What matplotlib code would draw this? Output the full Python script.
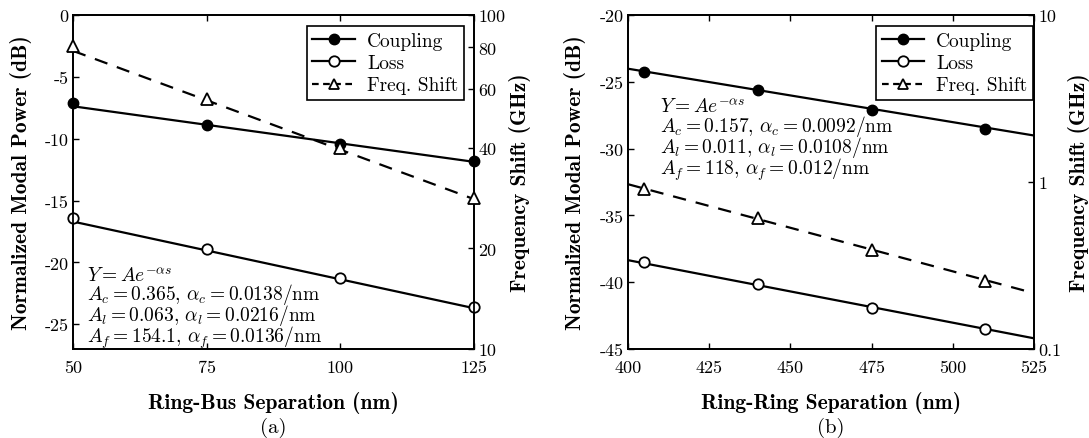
import matplotlib
matplotlib.use("Agg")
import matplotlib.pyplot as plt
from matplotlib.lines import Line2D
from matplotlib.ticker import FixedLocator, NullLocator

plt.rcParams['font.family'] = ['cmr10', 'DejaVu Serif']
plt.rcParams['mathtext.fontset'] = 'cm'
plt.rcParams['axes.unicode_minus'] = False
plt.rcParams['axes.formatter.use_mathtext'] = False

# ---- Panel (a) data ----
sep_a = [50, 75, 100, 125]
coupling_a = [-7.1, -8.9, -10.4, -11.8]        # dB
loss_a = [-16.4, -18.9, -21.3, -23.6]          # dB
freq_a = [80.5, 56.0, 40.0, 28.3]              # GHz
fit_x_a = [50, 125]
coupling_fit_a = [-7.38, -11.87]
loss_fit_a = [-16.7, -23.7]
freq_fit_a = [78.1, 28.1]
ann_a = [r"$Y = Ae^{-\alpha s}$",
         r"$A_c = 0.365,\, \alpha_c = 0.0138/\mathrm{nm}$",
         r"$A_l = 0.063,\, \alpha_l = 0.0216/\mathrm{nm}$",
         r"$A_f = 154.1,\, \alpha_f = 0.0136/\mathrm{nm}$"]

# ---- Panel (b) data ----
sep_b = [405, 440, 475, 510]
coupling_b = [-24.25, -25.6, -27.1, -28.5]
loss_b = [-38.5, -40.1, -41.9, -43.5]
freq_b = [0.91, 0.61, 0.39, 0.255]
fit_x_b = [400, 525]
coupling_fit_b = [-24.02, -29.02]
loss_fit_b = [-38.35, -44.2]
freq_fit_b = [0.97, 0.216]
ann_b = [r"$Y = Ae^{-\alpha s}$",
         r"$A_c = 0.157,\, \alpha_c = 0.0092/\mathrm{nm}$",
         r"$A_l = 0.011,\, \alpha_l = 0.0108/\mathrm{nm}$",
         r"$A_f = 118,\, \alpha_f = 0.012/\mathrm{nm}$"]

W, H = 1089, 439
fig = plt.figure(figsize=(W / 100, H / 100), dpi=100)

def px_rect(l, t, r, b):
    return [l / W, 1 - b / H, (r - l) / W, (b - t) / H]

lw = 1.6
ms = 7.5
fs = 13
fs_lab = 15.5

def panel(rect, sep, cp, ls, fq, fx, cpf, lsf, fqf, xlim, xticks, ylim, yticks,
          rlim, rticks, rlabels, ann, ann_xy, xlabel, tag, leg_anchor, llabel_x, rlabel_x):
    l_, t_, r_, b_ = rect
    ax = fig.add_axes(px_rect(*rect))
    ax2 = ax.twinx()
    ax.plot(fx, cpf, color='black', lw=lw)
    ax.plot(fx, lsf, color='black', lw=lw)
    ax.plot(sep, cp, 'o', color='black', ms=ms, clip_on=False, zorder=5)
    ax.plot(sep, ls, 'o', mfc='white', mec='black', mew=1.3, ms=ms, clip_on=False, zorder=5)
    l, = ax2.plot(fx, fqf, color='black', lw=lw)
    l.set_dashes([6, 4.5])
    ax2.plot(sep, fq, '^', mfc='white', mec='black', mew=1.3, ms=ms + 0.5, clip_on=False, zorder=5)
    ax.set_xlim(*xlim)
    ax.set_xticks(xticks)
    ax.set_ylim(*ylim)
    ax.set_yticks(yticks)
    ax2.set_yscale('log')
    ax2.set_ylim(*rlim)
    ax2.yaxis.set_major_locator(FixedLocator(rticks))
    ax2.yaxis.set_minor_locator(NullLocator())
    ax2.set_yticklabels(rlabels)
    for a in (ax, ax2):
        a.tick_params(direction='in', labelsize=fs, length=4, width=1, pad=3)
        for s in a.spines.values():
            s.set_linewidth(1.3)
    ax.tick_params(axis='x', top=True, pad=8)
    ax.set_xlabel(xlabel, family='cmb10', fontsize=fs_lab)
    ax.xaxis.set_label_coords(0.5, (b_ - 403) / (b_ - t_))
    ax.xaxis.label.set_va('center')
    ax.set_ylabel('Normalized Modal Power (dB)', family='cmb10', fontsize=fs_lab)
    ax.yaxis.set_label_coords((llabel_x - l_) / (r_ - l_), 0.5)
    ax.yaxis.label.set_va('center')
    ax2.set_ylabel('Frequency Shift (GHz)', family='cmb10', fontsize=fs_lab)
    ax2.yaxis.set_label_coords((rlabel_x - l_) / (r_ - l_), 0.5)
    ax2.yaxis.label.set_va('center')
    ax.text(0.5, (b_ - 428) / (b_ - t_), tag, transform=ax.transAxes, ha='center', va='center',
            fontsize=fs + 2)
    ax.text(ann_xy[0], ann_xy[1], "\n".join(ann), transform=ax.transAxes, ha='left', va='top',
            fontsize=fs + 1, linespacing=0.8)
    handles = [
        Line2D([], [], color='black', lw=lw, marker='o', ms=ms),
        Line2D([], [], color='black', lw=lw, marker='o', mfc='white', mew=1.3, ms=ms),
        Line2D([], [], color='black', lw=lw, ls=(0, (3, 2)), marker='^', mfc='white', mew=1.3, ms=ms),
    ]
    leg = ax2.legend(handles, ['Coupling', 'Loss', 'Freq. Shift'], loc='upper right',
                     bbox_to_anchor=leg_anchor, fontsize=fs + 1, frameon=True, fancybox=False,
                     edgecolor='black', framealpha=1, handlelength=2.2, handletextpad=0.6,
                     borderpad=0.3, labelspacing=0.22, borderaxespad=0)
    leg.get_frame().set_linewidth(1.2)
    return ax, ax2

panel((73, 16, 474, 350), sep_a, coupling_a, loss_a, freq_a, fit_x_a,
      coupling_fit_a, loss_fit_a, freq_fit_a,
      (50, 125), [50, 75, 100, 125], (-27, 0), [-25, -20, -15, -10, -5, 0],
      (10, 100), [10, 20, 40, 60, 80, 100], ['10', '20', '40', '60', '80', '100'],
      ann_a, (0.035, 0.248), 'Ring-Bus Separation (nm)', '(a)', (0.975, 0.967), 21, 520)

panel((628, 16, 1034, 350), sep_b, coupling_b, loss_b, freq_b, fit_x_b,
      coupling_fit_b, loss_fit_b, freq_fit_b,
      (400, 525), [400, 425, 450, 475, 500, 525], (-45, -20), [-45, -40, -35, -30, -25, -20],
      (0.1, 10), [0.1, 1, 10], ['0.1', '1', '10'],
      ann_b, (0.08, 0.752), 'Ring-Ring Separation (nm)', '(b)', (0.998, 0.967), 575, 1079)

fig.savefig('out.png', dpi=100, facecolor='white')
